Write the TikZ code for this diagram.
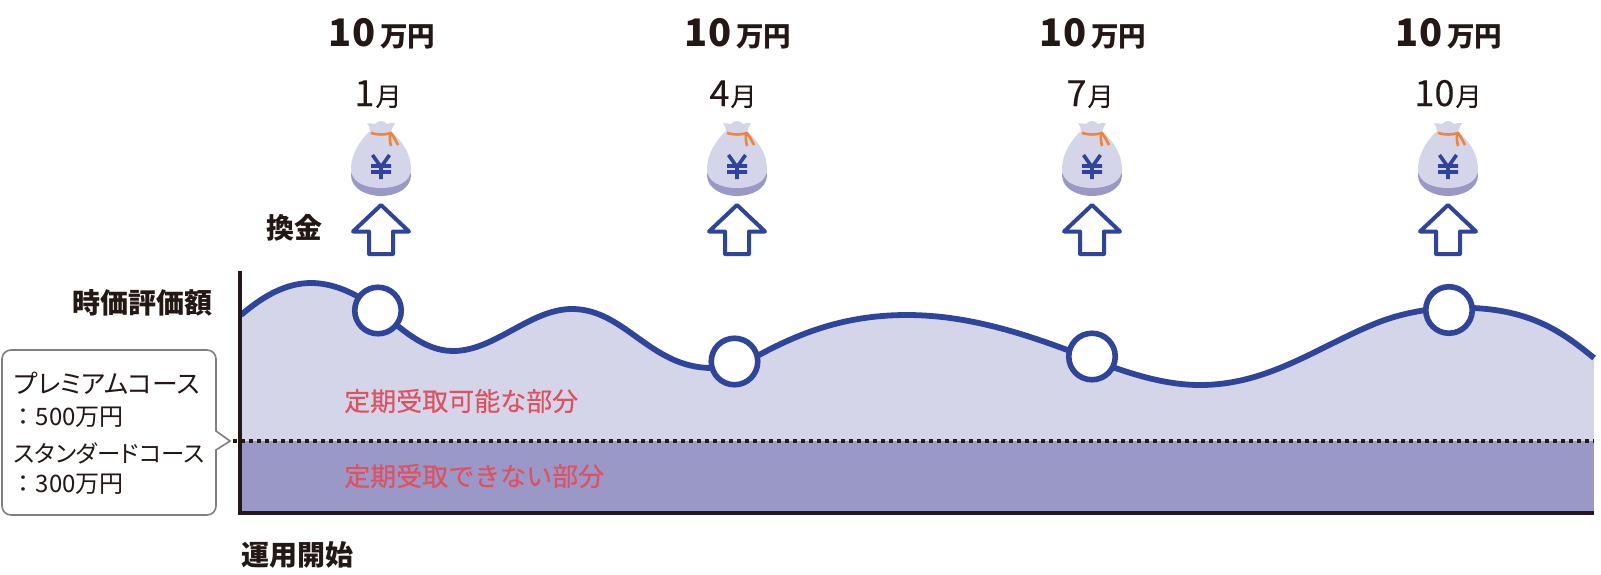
\documentclass[tikz,border=0pt]{standalone}
\usepackage{fontspec}
\setmainfont{Noto Sans CJK JP}
\newcommand{\jpb}{\bfseries}
\newfontfamily\jpm[FakeBold=0.25]{Noto Sans CJK JP}
\newfontfamily\jpp[RawFeature=+palt]{Noto Sans CJK JP}
\definecolor{inkc}{HTML}{231815}
\definecolor{bluec}{HTML}{2E459B}
\definecolor{lightc}{HTML}{D4D5E9}
\definecolor{darkc}{HTML}{9A98C7}
\definecolor{redc}{HTML}{E0505F}
\definecolor{orangec}{HTML}{F08437}
\definecolor{grayc}{HTML}{7F7F7F}
\tikzset{
  x=1pt,y=-1pt,
  txt/.style={inner sep=0pt,outer sep=0pt,text=inkc},
  headlab/.style={txt,font=\fontsize{28}{30}\selectfont\jpb},
  calllab/.style={txt,anchor=base west,font=\fontsize{24}{28}\selectfont},
  redlab/.style={inner sep=0pt,anchor=west,text=redc,font=\jpm\fontsize{26}{28}\selectfont},
  dotc/.style={circle,draw=bluec,line width=5.6pt,fill=white,minimum size=46.5pt,inner sep=0pt},
  upar/.style={draw=bluec,line width=4pt,line join=round,fill=white},
  pics/bag/.style={code={
    \fill[darkc] (-30,28) .. controls (-30,10) and (30,10) .. (30,28) .. controls (30,42) and (14,49) .. (0,49) .. controls (-14,49) and (-30,42) .. (-30,28) -- cycle;
    \fill[lightc] (-11,-16) .. controls (-11,-19) and (-12,-21) .. (-14,-24) .. controls (-10,-23) and (-8,-24) .. (-6,-23) .. controls (-3,-27) and (3,-27) .. (6,-23) .. controls (8,-24) and (11,-24) .. (14,-24) .. controls (12,-21) and (11,-18) .. (10,-15)
      .. controls (22,-6) and (30,8) .. (30,22) .. controls (30,36) and (14,41) .. (0,41) .. controls (-14,41) and (-30,36) .. (-30,22) .. controls (-30,8) and (-22,-6) .. (-11,-16) -- cycle;
    \draw[orangec,line width=2.6pt] (-10,-14) .. controls (-3,-12) and (4,-12) .. (10,-14) .. controls (13,-10) and (15,-6) .. (17,-2);
    \draw[orangec,line width=2.6pt] (10,-14) .. controls (8,-10) and (9,-6) .. (10,-1);
    \draw[bluec,line width=3.6pt] (-8.5,8) -- (0,20) -- (8.5,8) (0,20) -- (0,32) (-10,19) -- (10,19) (-10,25) -- (10,25);
  }},
  pics/uparrow/.style={code={
    \draw[upar] (0,0) -- (28,26.5) -- (12,26.5) -- (12,49) -- (-12,49) -- (-12,26.5) -- (-28,26.5) -- cycle;
  }}
}
\newcommand{\curvepath}{(241,315) .. controls (262,297) and (285,283) .. (311,283)
 .. controls (332,283) and (355,292) .. (378,310)
 .. controls (400,327) and (423,351) .. (453,351)
 .. controls (495,351) and (530,309) .. (572,309)
 .. controls (625,309) and (650,368) .. (712,368)
 .. controls (735,368) and (745,362) .. (759,355)
 .. controls (805,330) and (850,315) .. (907,315)
 .. controls (970,315) and (1030,335) .. (1092,359.5)
 .. controls (1130,374) and (1165,385) .. (1200,385)
 .. controls (1270,385) and (1320,345) .. (1380,321.7)
 .. controls (1395,316) and (1420,309) .. (1449,308)
 .. controls (1525,305) and (1560,330) .. (1594,358)}
\begin{document}
\begin{tikzpicture}
\useasboundingbox (0,0) rectangle (1601,574);
% areas
\fill[lightc] \curvepath -- (1594,441) -- (241,441) -- cycle;
\fill[darkc] (240,441) rectangle (1594,513);
\draw[bluec,line width=5.8pt] \curvepath;
% axes
\coordinate (axtop) at (240,271);
\coordinate (axorg) at (240,512.5);
\coordinate (axend) at (1594,512.5);
\draw[inkc,line width=4pt] (axtop) -- (axorg) -- (axend);
% dotted level
\coordinate (lvlA) at (233,441);
\coordinate (lvlB) at (1594,441);
\draw[inkc,line width=3.6pt,dash pattern=on 4pt off 4pt] (lvlA) -- (lvlB);
% markers
\node[dotc] (p1) at (378,310.5) {};
\node[dotc] (p2) at (734.5,361.5) {};
\node[dotc] (p3) at (1092,356.5) {};
\node[dotc] (p4) at (1449,310) {};
% top columns
\foreach \n/\xx/\dm/\mm in {a/381/-3/1,b/737/-4/4,c/1092/-2/7,d/1448/0/10}{
  \node[txt,anchor=base] (amt\n) at (\xx+1,46) {{\jpb\fontsize{38}{40}\selectfont 10}\hspace{5pt}{\fontsize{27.5}{28}\selectfont\jpb 万円}};
  \node[txt,anchor=base] (mon\n) at (\xx+\dm,106) {{\jpm\fontsize{36}{38}\selectfont \mm}\hspace{1pt}{\jpm\fontsize{26}{28}\selectfont 月}};
  \pic at (\xx,147) {bag};
  \pic at (\xx,205) {uparrow};
}
% labels
\node[headlab,anchor=base west] (lblA) at (266,238) {換金};
\node[headlab,anchor=base east] (lblB) at (212,313) {時価評価額};
\node[headlab,anchor=base west] (lblC) at (241,565) {運用開始};
\node[redlab] (r1) at (344,401) {定期受取可能な部分};
\node[redlab] (r2) at (344,476) {定期受取できない部分};
% callout
\draw[grayc,line width=1.6pt,fill=white] (11,350) -- (207,350) .. controls (212,350) and (216,354) .. (216,359) -- (216,431) -- (230,441) -- (216,450) -- (216,506) .. controls (216,511) and (212,515) .. (207,515) -- (11,515) .. controls (6,515) and (2,511) .. (2,506) -- (2,359) .. controls (2,354) and (6,350) .. (11,350) -- cycle;
\node[calllab,font=\jpp\fontsize{25.8}{28}\selectfont] (c1) at (14,393) {プレミアムコース};
\node[calllab] (c2) at (11.7,425) {：500万円};
\node[calllab,font=\jpp\fontsize{23.4}{26}\selectfont] (c3) at (14,462) {スタンダードコース};
\node[calllab] (c4) at (11.7,492) {：300万円};
\end{tikzpicture}
\end{document}
